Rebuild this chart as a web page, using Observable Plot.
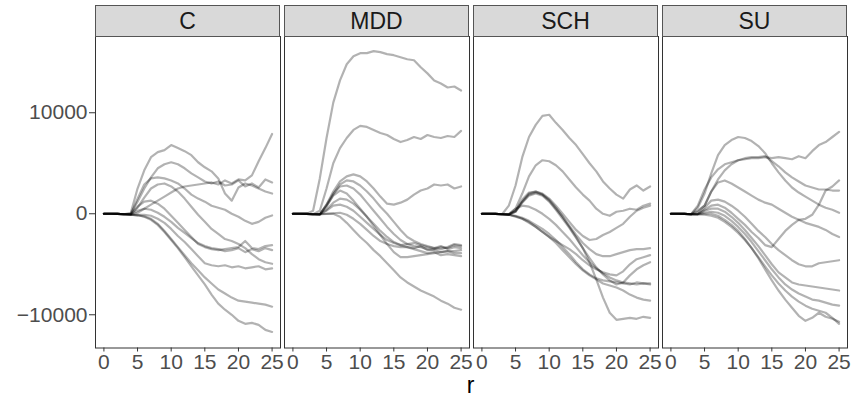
<!DOCTYPE html>
<html><head><meta charset="utf-8">
<script src="https://cdn.jsdelivr.net/npm/d3@7"></script>
<script src="https://cdn.jsdelivr.net/npm/@observablehq/plot@0.6"></script>
<style>body{margin:0;background:#fff;} svg{display:block;}</style>
</head><body><div id="chart"></div>
<script>
const groups = ["C", "MDD", "SCH", "SU"];
const rValues = [0,1,2,3,4,5,6,7,8,9,10,11,12,13,14,15,16,17,18,19,20,21,22,23,24,25];
const xTicks = [0, 5, 10, 15, 20, 25];
const yTicks = [-10000, 0, 10000];
const xLabel = "r";

const linesC = [
  [0,0,-20,-50,-100,100,500,900,1300,1700,2100,2500,2700,2800,2900,3000,3100,2900,3300,3000,3400,3300,3800,5200,6500,7900],
  [0,0,-20,-50,100,2500,4300,5600,6100,6300,6800,6500,6200,5800,5100,4600,4200,3500,2000,1300,2600,3000,2800,2500,2200,2000],
  [0,0,-20,-50,0,1200,2500,3600,4500,4900,5100,4900,4500,4000,3600,3200,3000,3200,2800,2900,3300,2700,3000,2600,3400,3100],
  [0,0,-20,-50,-50,1500,2900,3500,3600,3500,3300,3000,2500,1900,1500,1200,800,600,400,0,-300,-700,-1000,-800,-400,-170],
  [0,0,-20,-50,-60,600,1600,2500,2900,3000,2700,2200,1500,700,-100,-800,-1500,-2000,-2500,-2700,-3000,-3400,-4000,-4500,-4800,-4950],
  [0,0,-20,-50,-30,700,1200,1300,1000,500,-200,-900,-1600,-2300,-3000,-3300,-3500,-3600,-3500,-3400,-3300,-2700,-3400,-3500,-3200,-3100],
  [0,0,-20,-50,-80,-100,-100,-200,-500,-900,-1500,-2200,-2800,-3500,-4200,-4900,-5100,-5200,-5100,-5300,-5200,-5400,-5300,-5200,-5500,-5400],
  [0,0,-20,-50,-40,300,500,400,100,-300,-800,-1400,-1900,-2400,-2900,-3200,-3400,-3500,-3700,-3600,-3400,-3800,-3500,-3700,-3400,-3600],
  [0,0,-20,-50,-100,-150,-250,-500,-1000,-1700,-2500,-3300,-4100,-4900,-5600,-6300,-6900,-7500,-7900,-8300,-8600,-8700,-8800,-8900,-9000,-9200],
  [0,0,-20,-50,-100,-150,-300,-600,-1100,-1800,-2600,-3400,-4300,-5200,-6100,-7000,-8000,-8900,-9500,-10000,-10600,-10900,-10800,-11000,-11500,-11700]
];
const linesMDD = [
  [0,0,-20,300,3500,7500,11000,13200,14800,15600,15900,15900,16100,16000,15800,15700,15500,15300,15200,14500,13900,13200,12900,12500,12600,12200],
  [0,0,-20,-50,300,2500,5000,6500,7500,8300,8700,8600,8300,8000,7800,7400,7100,7300,7600,7400,7800,7600,7500,7700,7600,8200],
  [0,0,-20,-50,-80,900,2200,3200,3700,3900,3700,3200,2500,1700,1000,900,1100,1400,1900,2300,2500,2900,2800,2900,2500,2700],
  [0,0,-20,-50,-80,700,1900,2900,3300,3200,2800,2200,1500,700,0,-800,-1600,-2300,-2700,-3000,-3200,-3400,-3200,-3500,-3300,-3400],
  [0,0,-20,-50,-60,900,2000,2700,2800,2500,1900,1100,300,-500,-1300,-2000,-2600,-3000,-3200,-3300,-3500,-3600,-3800,-3700,-3900,-3900],
  [0,0,-20,-50,-50,800,1800,2300,2000,1300,500,-300,-1200,-2100,-3000,-3800,-4300,-4300,-4200,-4100,-4000,-3900,-3800,-3700,-3700,-3600],
  [0,0,-20,-50,-40,400,1100,1500,1400,1000,400,-300,-1000,-1700,-2300,-2800,-3100,-3300,-3500,-3700,-3900,-3800,-4100,-4000,-4100,-4200],
  [0,0,-20,-50,-30,0,50,100,-100,-500,-1000,-1600,-2200,-2700,-3000,-3200,-3300,-3300,-3400,-3200,-3600,-3500,-3300,-3400,-3100,-3200],
  [0,0,-20,-50,-40,-20,0,-300,-900,-1600,-2300,-2900,-3600,-4200,-4900,-5600,-6300,-6800,-7200,-7600,-7900,-8200,-8600,-8900,-9300,-9500],
  [0,0,-20,-50,-40,300,800,900,700,300,-300,-900,-1500,-2100,-2600,-2900,-3100,-3000,-2900,-3100,-3300,-3400,-3500,-3300,-3000,-3100]
];
const linesSCH = [
  [0,0,-20,-50,800,2800,5600,7600,8800,9700,9800,9000,8300,7500,6800,5900,5000,4200,3200,2500,1900,1500,2400,2800,2300,2700],
  [0,0,-20,-50,-80,500,2000,3700,4800,5300,5200,4800,4200,3400,2600,1900,1300,500,0,-200,200,300,500,400,800,1000],
  [0,0,-20,-50,-80,200,1200,2000,2200,2000,1500,800,0,-800,-1600,-2200,-2600,-2500,-2100,-1800,-1400,-1000,-300,300,600,800],
  [0,0,-20,-50,-70,300,1400,2100,2200,1900,1300,500,-300,-1200,-2100,-2900,-3500,-4000,-4200,-4200,-4000,-3800,-3600,-3500,-3500,-3400],
  [0,0,-20,-50,-70,200,1100,1800,2000,1800,1200,400,-500,-1400,-2400,-3400,-4400,-5300,-6000,-6600,-7000,-6800,-6100,-5500,-5100,-4800],
  [0,0,-20,-50,-100,-300,-500,-900,-1300,-1800,-2300,-2700,-3100,-3500,-4000,-4600,-5100,-5500,-5800,-6000,-6100,-5700,-5000,-4500,-4300,-4100],
  [0,0,-20,-50,-100,-200,-400,-700,-1100,-1500,-2000,-2600,-3300,-4000,-4800,-5500,-6000,-6400,-6600,-6700,-6800,-6900,-7000,-6800,-6900,-6900],
  [0,0,-20,-50,-100,-250,-500,-800,-1300,-1800,-2300,-2900,-3600,-4300,-5000,-5600,-6100,-6500,-6900,-7100,-7300,-7600,-8000,-8300,-8500,-8600],
  [0,0,-20,-50,-60,300,1200,1900,2100,1900,1400,600,-300,-1300,-2300,-3400,-4800,-6500,-8300,-9800,-10500,-10400,-10300,-10400,-10200,-10300],
  [0,0,-20,-50,-40,500,800,700,400,0,-500,-1100,-1800,-2500,-3300,-4100,-4800,-5400,-5900,-6300,-6600,-6800,-6900,-7000,-6900,-7000]
];
const linesSU = [
  [0,0,-20,-50,600,2000,4000,5800,6800,7300,7600,7500,7200,6700,6000,5000,4100,3300,2600,2100,1700,1300,900,600,400,100],
  [0,0,-20,-50,800,2400,3600,4400,4900,5100,5300,5400,5500,5500,5600,5500,5600,5500,5400,5700,5500,6200,6800,7100,7600,8100],
  [0,0,-20,-50,300,800,2200,3400,4300,4900,5300,5500,5600,5600,5700,5200,4700,4100,3600,3200,2800,2600,2400,2400,2300,2300],
  [0,0,-20,-50,200,800,2200,3100,3300,3000,2600,2200,1800,1400,1100,900,500,100,-300,-600,-900,-1100,-1300,-1600,-2000,-2300],
  [0,0,-20,-50,-30,600,1300,1400,1200,800,300,-300,-1000,-1700,-2300,-3000,-3600,-4100,-4600,-5000,-5200,-5200,-4900,-4800,-4700,-4600],
  [0,0,-20,-50,-30,400,800,900,600,100,-500,-1100,-1800,-2400,-3100,-3300,-2500,-1700,-1100,-600,-500,-100,900,2300,2700,3300],
  [0,0,-20,-50,-30,300,500,500,200,-300,-900,-1600,-2400,-3200,-4100,-5000,-5800,-6300,-6800,-7000,-7100,-7200,-7300,-7400,-7500,-7600],
  [0,0,-20,-50,-40,100,200,100,-200,-700,-1300,-2000,-2800,-3700,-4600,-5500,-6300,-7000,-7500,-7900,-8200,-8500,-8600,-8800,-9000,-9100],
  [0,0,-20,-50,-50,0,0,-200,-600,-1100,-1700,-2500,-3400,-4400,-5500,-6600,-7600,-8500,-9300,-10100,-10600,-10300,-9800,-10200,-10400,-10700],
  [0,0,-20,-50,-60,-100,-200,-400,-800,-1300,-1900,-2600,-3400,-4300,-5200,-6100,-6900,-7600,-8200,-8700,-9100,-9400,-9600,-9800,-10300,-10900]
];

const seriesByGroup = [linesC, linesMDD, linesSCH, linesSU];
const rows = [];
groups.forEach((g, gi) => {
  seriesByGroup[gi].forEach((vals, li) => {
    vals.forEach((v, i) => rows.push({group: g, id: g + "-" + li, r: rValues[i], v}));
  });
});

const W = 854, H = 399;
const mL = 94, mR = 7, mT = 36, mB = 51.5;
const font = "'Liberation Sans', Arial, Helvetica, sans-serif";

const chart = Plot.plot({
  width: W, height: H,
  marginLeft: mL, marginRight: mR, marginTop: mT, marginBottom: mB,
  style: {fontFamily: font, fontSize: "21px", background: "#fff", color: "#4d4d4d", overflow: "visible"},
  fx: {domain: groups, paddingInner: 0.0227, paddingOuter: 0, axis: null, label: null},
  x: {domain: [-1.25, 26.25], label: null},
  y: {domain: [-13290, 17550], label: null},
  marks: [
    Plot.line(rows, {fx: "group", x: "r", y: "v", z: "id", stroke: "black", strokeOpacity: 0.3, strokeWidth: 2.2}),
    Plot.frame({stroke: "#333", strokeWidth: 1}),
    Plot.axisX({ticks: xTicks, tickSize: 4, tickPadding: 2, fontSize: 21, stroke: "#333", label: null}),
    Plot.axisY({ticks: yTicks, tickFormat: d3.format("d"), tickSize: 6, tickPadding: 2, fontSize: 21, stroke: "#333", label: null})
  ]
});

document.getElementById("chart").appendChild(chart);

const svg = d3.select(chart);
svg.selectAll("text").style("font-size", "21px").style("font-family", font);

// facet strips (theme_bw style) and axis title
const fx = chart.scale("fx");
const step = (W - mL - mR) / (groups.length - 0.0227);
const bw = fx && fx.bandwidth ? fx.bandwidth : step * (1 - 0.0227);
const strips = svg.append("g").attr("aria-label", "strips");
groups.forEach((g, i) => {
  const x0 = fx && fx.apply ? fx.apply(g) : mL + i * step;
  strips.append("rect")
    .attr("x", x0 + 0.5).attr("y", 5.5)
    .attr("width", bw - 1).attr("height", mT - 5)
    .attr("fill", "#d9d9d9").attr("stroke", "#555").attr("stroke-width", 1);
  strips.append("text")
    .attr("x", x0 + bw / 2).attr("y", 21)
    .attr("text-anchor", "middle").attr("dominant-baseline", "central")
    .style("font-family", font).style("font-size", "23px").attr("fill", "#1a1a1a")
    .text(g);
});
svg.append("text")
  .attr("x", mL + (W - mL - mR) / 2).attr("y", 393)
  .attr("text-anchor", "middle")
  .style("font-family", font).style("font-size", "23px").attr("fill", "#000")
  .text(xLabel);
</script>
</body></html>
